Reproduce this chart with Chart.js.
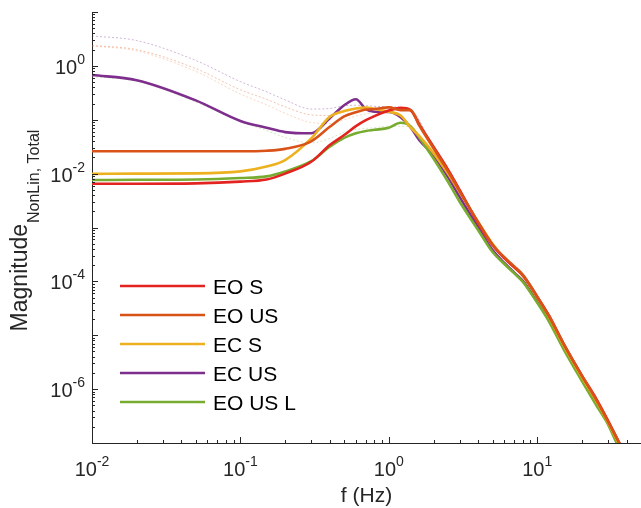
<!DOCTYPE html>
<html>
<head>
<meta charset="utf-8">
<title>Magnitude NonLin, Total</title>
<script src="https://cdn.jsdelivr.net/npm/chart.js"></script>
<style>
  html, body { margin: 0; padding: 0; background: #fff; }
  canvas { display: block; }
</style>
</head>
<body>
<canvas id="chart" width="641" height="508"></canvas>
<script>
// frequencies (Hz) where the curves were read
const freq = [0.01, 0.02, 0.05, 0.1, 0.15, 0.2, 0.3, 0.4, 0.5, 0.6, 0.7, 0.8, 1.0, 1.2, 1.4, 1.6,
              2, 2.5, 3, 4, 5, 6, 7, 8, 10, 12, 15, 20, 25, 30, 35, 40];

const eoS   = [6.5e-3, 6.5e-3, 6.6e-3, 7.1e-3, 7.8e-3, 1.0e-2, 1.66e-2, 3.4e-2, 5.2e-2, 7.6e-2, 9.8e-2, 0.117, 0.148, 0.166, 0.151, 0.083,
               0.0316, 0.012, 5.0e-3, 1.2e-3, 4.7e-4, 2.7e-4, 1.82e-4, 1.29e-4, 5.2e-5, 2.3e-5, 7.1e-6, 1.78e-6, 6.6e-7, 2.6e-7, 1.12e-7, 5.6e-8];
const eoUS  = [2.6e-2, 2.6e-2, 2.6e-2, 2.6e-2, 2.66e-2, 2.88e-2, 3.98e-2, 7.4e-2, 0.115, 0.138, 0.155, 0.158, 0.17, 0.151, 0.151, 0.079,
               0.0295, 0.0112, 4.7e-3, 1.26e-3, 4.8e-4, 2.8e-4, 1.9e-4, 1.32e-4, 5.2e-5, 2.3e-5, 7.1e-6, 1.78e-6, 6.3e-7, 2.5e-7, 1.12e-7, 5.6e-8];
const ecS   = [9.9e-3, 1.0e-2, 1.01e-2, 1.1e-2, 1.35e-2, 1.78e-2, 4.5e-2, 0.1135, 0.145, 0.162, 0.168, 0.158, 0.141, 0.12, 0.072, 0.050,
               0.024, 0.010, 4.5e-3, 1.26e-3, 5.0e-4, 2.7e-4, 1.82e-4, 1.26e-4, 5.0e-5, 2.2e-5, 6.6e-6, 1.66e-6, 6.0e-7, 2.4e-7, 1.05e-7, 5.2e-8];
const ecUS  = [0.676, 0.543, 0.229, 0.095, 0.071, 0.059, 0.056, 0.107, 0.186, 0.24, 0.158, 0.141, 0.14, 0.112, 0.073, 0.042,
               0.022, 8.7e-3, 3.7e-3, 1.0e-3, 3.8e-4, 2.2e-4, 1.45e-4, 1.02e-4, 4.2e-5, 1.9e-5, 6.0e-6, 1.51e-6, 5.6e-7, 2.4e-7, 1.0e-7, 5.0e-8];
const eoUSL = [7.6e-3, 7.7e-3, 7.8e-3, 8.3e-3, 8.9e-3, 1.1e-2, 1.7e-2, 3.16e-2, 4.6e-2, 5.6e-2, 6.2e-2, 6.5e-2, 7.1e-2, 8.8e-2, 7.6e-2, 4.7e-2,
               1.9e-2, 7.1e-3, 3.0e-3, 8.9e-4, 3.5e-4, 2.1e-4, 1.41e-4, 9.8e-5, 4.0e-5, 1.8e-5, 5.6e-6, 1.41e-6, 5.0e-7, 2.2e-7, 8.9e-8, 5.0e-8];

// faint dotted curves (not in legend)
const freqFaint  = [0.01, 0.02, 0.05, 0.1, 0.15, 0.2, 0.3, 0.4, 0.5, 0.6, 0.8, 1.0, 1.4, 2];
const ecUSFaint  = [3.6, 2.95, 1.26, 0.51, 0.33, 0.234, 0.158, 0.162, 0.182, 0.186, 0.178, 0.174, 0.151, 0.028];
const eoUSFaint  = [2.4, 2.0, 0.89, 0.36, 0.24, 0.174, 0.123, 0.12, 0.141, 0.158, 0.17, 0.17, 0.151, 0.028];
const eoSFaint   = [2.34, 1.9, 0.79, 0.30, 0.19, 0.132, 0.089, 0.085, 0.10, 0.117, 0.138, 0.151, 0.148, 0.028];
const eoUSLFaint = [0.63, 0.52, 0.214, 0.093, 0.063, 0.047, 0.037, 0.045, 0.059, 0.066, 0.071, 0.076, 0.074, 0.019];

const xTickExps = [-2, -1, 0, 1];
const yTickExps = [0, -2, -4, -6];

const ink = "#262626";
const FONT = "'Liberation Sans', Arial, Helvetica, sans-serif";

function pts(xs, ys) {
    return xs.map((x, i) => ({ x: x, y: ys[i] }));
}

function mainLine(label, color, ys, order) {
    return {
        label: label, data: pts(freq, ys), borderColor: color, borderWidth: 2.6,
        pointRadius: 0, fill: false, cubicInterpolationMode: "monotone", order: order, inLegend: true
    };
}

function faintLine(color, ys) {
    return {
        label: "", data: pts(freqFaint, ys), borderColor: color, borderWidth: 1, borderDash: [2, 2],
        pointRadius: 0, fill: false, cubicInterpolationMode: "monotone", order: 10, inLegend: false
    };
}

const datasets = [
    mainLine("EO S", "#E3231F", eoS, 2),
    mainLine("EO US", "#D95319", eoUS, 1),
    mainLine("EC S", "#EDB120", ecS, 3),
    mainLine("EC US", "#7E2F8E", ecUS, 5),
    mainLine("EO US L", "#77AC30", eoUSL, 4),
    faintLine("rgba(126,47,142,0.35)", ecUSFaint),
    faintLine("rgba(217,83,25,0.35)", eoUSFaint),
    faintLine("rgba(240,140,80,0.35)", eoSFaint),
    faintLine("rgba(119,172,48,0.3)", eoUSLFaint),
];

// 10^n label with raised exponent
function drawPow(ctx, exp, x, baseline, align) {
    const big = "20px " + FONT, small = "14px " + FONT;
    ctx.font = big;
    const wb = ctx.measureText("10").width;
    ctx.font = small;
    const ws = ctx.measureText(String(exp)).width;
    let left = x;
    if (align === "center") left = x - (wb + ws) / 2;
    if (align === "right") left = x - (wb + ws);
    ctx.textAlign = "left";
    ctx.textBaseline = "alphabetic";
    ctx.font = big;
    ctx.fillText("10", left, baseline);
    ctx.font = small;
    ctx.fillText(String(exp), left + wb, baseline - 10);
}

const axisDecor = {
    id: "axisDecor",
    afterDraw(chart) {
        const ctx = chart.ctx, xs = chart.scales.x, ys = chart.scales.y, a = chart.chartArea;
        ctx.save();
        ctx.strokeStyle = ink;
        ctx.fillStyle = ink;
        ctx.lineWidth = 1;

        // inward tick marks
        for (let d = -2; d <= 1; d++) {
            for (let k = 1; k <= 9; k++) {
                const v = k * Math.pow(10, d);
                if (v > 50) break;
                const px = Math.round(xs.getPixelForValue(v)) + 0.5;
                const len = k === 1 ? 6 : 3;
                ctx.beginPath();
                ctx.moveTo(px, a.bottom);
                ctx.lineTo(px, a.bottom - len);
                ctx.stroke();
            }
        }
        for (let d = -7; d <= 1; d++) {
            for (let k = 1; k <= 9; k++) {
                const v = k * Math.pow(10, d);
                if (v > 10) break;
                const py = Math.round(ys.getPixelForValue(v)) + 0.5;
                const len = k === 1 ? 6 : 3;
                ctx.beginPath();
                ctx.moveTo(a.left, py);
                ctx.lineTo(a.left + len, py);
                ctx.stroke();
            }
        }

        // tick labels
        xTickExps.forEach(e => drawPow(ctx, e, xs.getPixelForValue(Math.pow(10, e)), 476, "center"));
        yTickExps.forEach(e => drawPow(ctx, e, 85, ys.getPixelForValue(Math.pow(10, e)) + 8, "right"));

        // x title
        ctx.font = "21px " + FONT;
        ctx.textAlign = "center";
        ctx.fillText("f (Hz)", (a.left + a.right) / 2, 502);

        // y title with subscript
        ctx.save();
        ctx.translate(27, 231);
        ctx.rotate(-Math.PI / 2);
        ctx.textAlign = "left";
        const mainFont = "23px " + FONT, subFont = "16px " + FONT;
        ctx.font = mainFont;
        const wm = ctx.measureText("Magnitude").width;
        ctx.font = subFont;
        const wsub = ctx.measureText("NonLin, Total").width;
        const u0 = -(wm + wsub) / 2;
        ctx.font = mainFont;
        ctx.fillText("Magnitude", u0, 0);
        ctx.font = subFont;
        ctx.fillText("NonLin, Total", u0 + wm + 1, 12);
        ctx.restore();

        // legend
        ctx.font = "21px " + FONT;
        ctx.textAlign = "left";
        let row = 0;
        chart.data.datasets.forEach(ds => {
            if (!ds.inLegend) return;
            const y = 286 + row * 29;
            ctx.strokeStyle = ds.borderColor;
            ctx.lineWidth = 2.6;
            ctx.beginPath();
            ctx.moveTo(120, y);
            ctx.lineTo(205, y);
            ctx.stroke();
            ctx.fillStyle = "#000";
            ctx.fillText(ds.label, 213, y + 7.5);
            row++;
        });
        ctx.restore();
    }
};

const ctx = document.getElementById("chart").getContext("2d");
new Chart(ctx, {
    type: "line",
    data: { datasets: datasets },
    options: {
        responsive: false,
        animation: false,
        layout: { padding: { left: 92, right: 0, top: 12, bottom: 65 } },
        plugins: { legend: { display: false }, tooltip: { enabled: false } },
        scales: {
            x: {
                type: "logarithmic", min: 0.01, max: 50,
                grid: { display: false, drawTicks: false },
                ticks: { display: false },
                border: { display: true, color: ink, width: 1 }
            },
            y: {
                type: "logarithmic", min: 1e-7, max: 10,
                grid: { display: false, drawTicks: false },
                ticks: { display: false },
                border: { display: true, color: ink, width: 1 }
            }
        }
    },
    plugins: [axisDecor]
});
</script>
</body>
</html>
